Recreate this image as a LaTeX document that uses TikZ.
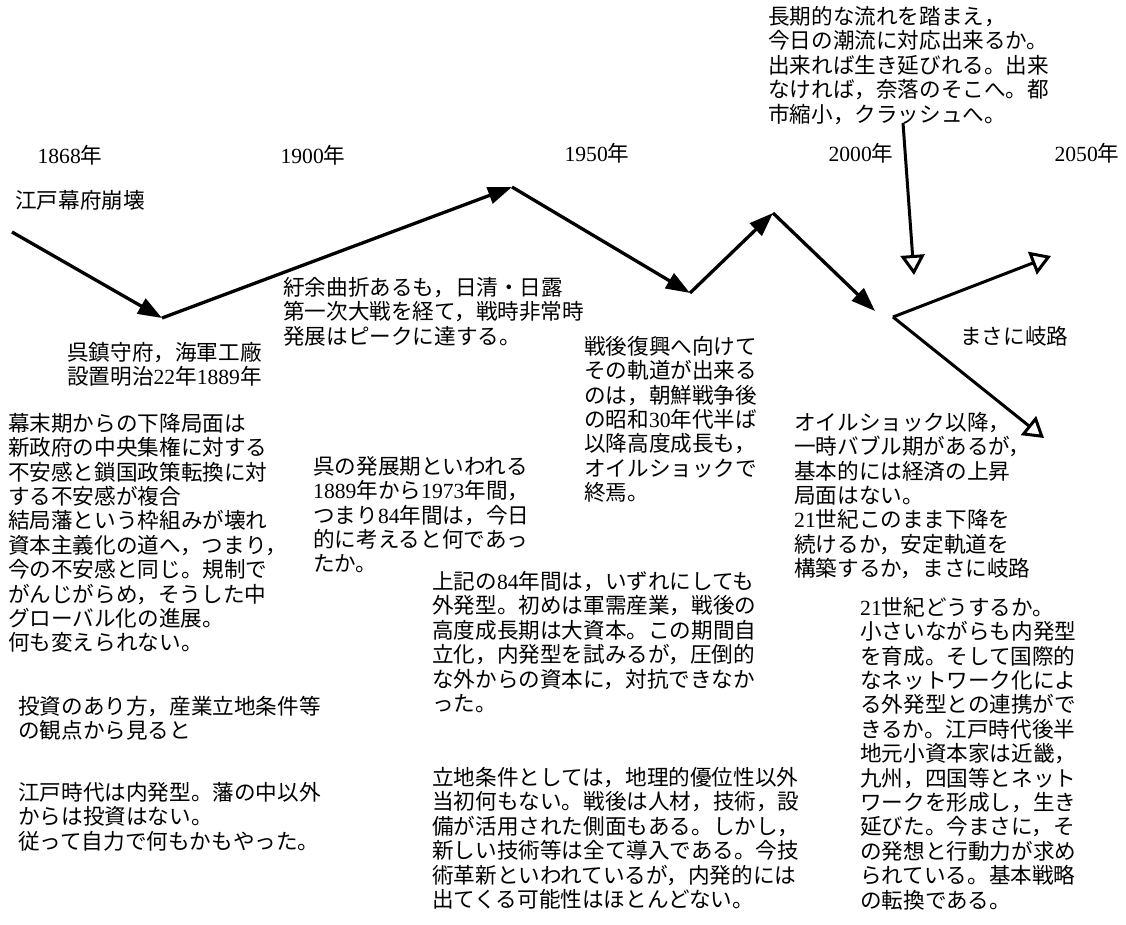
\documentclass[tikz,border=0pt]{standalone}
\usepackage{fontspec}
\setmainfont{Noto Sans CJK JP}
\newfontfamily\serifnum{Liberation Serif}
\usetikzlibrary{arrows.meta}
\newcommand\nm[1]{{\serifnum #1}}
\tikzset{
  jtxt/.style={anchor=north west, align=left, inner sep=0pt, font=\fontsize{21.6}{24.4}\selectfont},
  yr/.style={inner sep=0pt, font=\fontsize{21.6}{24.4}\selectfont},
  flow/.style={line width=3.3pt, -{Triangle[length=24pt,width=17pt]}},
  fork/.style={line width=3pt, -{Triangle[open,length=20pt,width=24pt,line width=3pt]}},
}
\begin{document}
\begin{tikzpicture}[x=1pt,y=-1pt]
\useasboundingbox (0,0) rectangle (1126,925);
\fill[white] (0,0) rectangle (1126,925);

% year labels
\node[yr] (y1868) at (70,155) {\nm{1868}年};
\node[yr] (y1900) at (313,155) {\nm{1900}年};
\node[yr] (y1950) at (597,153) {\nm{1950}年};
\node[yr] (y2000) at (861,153) {\nm{2000}年};
\node[yr] (y2050) at (1087,153) {\nm{2050}年};

% path points
\coordinate (p0) at (12,232);
\coordinate (p1) at (162,318);
\coordinate (p2) at (512,187);
\coordinate (p3) at (690,293);
\coordinate (p4) at (773,213);
\coordinate (p5) at (875,311);
\coordinate (f0) at (893,317);
\coordinate (fu) at (1051,256);
\coordinate (fd) at (1044,438);
\coordinate (v0) at (903,123);
\coordinate (v1) at (914,275);

\draw[flow] (p0) -- (p1);
\draw[flow] (p1) -- (p2);
\draw[flow] (p2) -- (p3);
\draw[flow] (p3) -- (p4);
\draw[flow] (p4) -- (p5);
\draw[fork] (f0) -- (fu);
\draw[fork] (f0) -- (fd);
\draw[fork] (v0) -- (v1);

% texts
\node[jtxt] (edo) at (15,190) {江戸幕府崩壊};
\node[jtxt] (kure) at (67,342) {呉鎮守府，海軍工廠\\設置明治\nm{22}年\nm{1889}年};
\node[jtxt] (uyo) at (283,277) {紆余曲折あるも，日清・日露\\第一次大戦を経て，戦時非常時\\発展はピークに達する。};
\node[jtxt] (bakumatsu) at (8,413) {幕末期からの下降局面は\\新政府の中央集権に対する\\不安感と鎖国政策転換に対\\する不安感が複合\\結局藩という枠組みが壊れ\\資本主義化の道へ，つまり，\\今の不安感と同じ。規制で\\がんじがらめ，そうした中\\グローバル化の進展。\\何も変えられない。};
\node[jtxt] (hatten) at (313,456) {呉の発展期といわれる\\\nm{1889}年から\nm{1973}年間，\\つまり\nm{84}年間は，今日\\的に考えると何であっ\\たか。};
\node[jtxt] (sengo) at (584,336) {戦後復興へ向けて\\その軌道が出来る\\のは，朝鮮戦争後\\の昭和\nm{30}年代半ば\\以降高度成長も，\\オイルショックで\\終焉。};
\node[jtxt] (oil) at (794,412) {オイルショック以降，\\一時バブル期があるが，\\基本的には経済の上昇\\局面はない。\\\nm{21}世紀このまま下降を\\続けるか，安定軌道を\\構築するか，まさに岐路};
\node[jtxt] (choki) at (768,6) {長期的な流れを踏まえ，\\今日の潮流に対応出来るか。\\出来れば生き延びれる。出来\\なければ，奈落のそこへ。都\\市縮小，クラッシュへ。};
\node[jtxt] (kiro) at (960,326) {まさに岐路};
\node[jtxt] (joki) at (432,571) {上記の\nm{84}年間は，いずれにしても\\外発型。初めは軍需産業，戦後の\\高度成長期は大資本。この期間自\\立化，内発型を試みるが，圧倒的\\な外からの資本に，対抗できなか\\った。};
\node[jtxt] (ricchi) at (432,767) {立地条件としては，地理的優位性以外\\当初何もない。戦後は人材，技術，設\\備が活用された側面もある。しかし，\\新しい技術等は全て導入である。今技\\術革新といわれているが，内発的には\\出てくる可能性はほとんどない。};
\node[jtxt] (toshi) at (18,696) {投資のあり方，産業立地条件等\\の観点から見ると};
\node[jtxt] (edojidai) at (18,782) {江戸時代は内発型。藩の中以外\\からは投資はない。\\従って自力で何もかもやった。};
\node[jtxt] (c21) at (860,597) {\nm{21}世紀どうするか。\\小さいながらも内発型\\を育成。そして国際的\\なネットワーク化によ\\る外発型との連携がで\\きるか。江戸時代後半\\地元小資本家は近畿，\\九州，四国等とネット\\ワークを形成し，生き\\延びた。今まさに，そ\\の発想と行動力が求め\\られている。基本戦略\\の転換である。};
\end{tikzpicture}
\end{document}
